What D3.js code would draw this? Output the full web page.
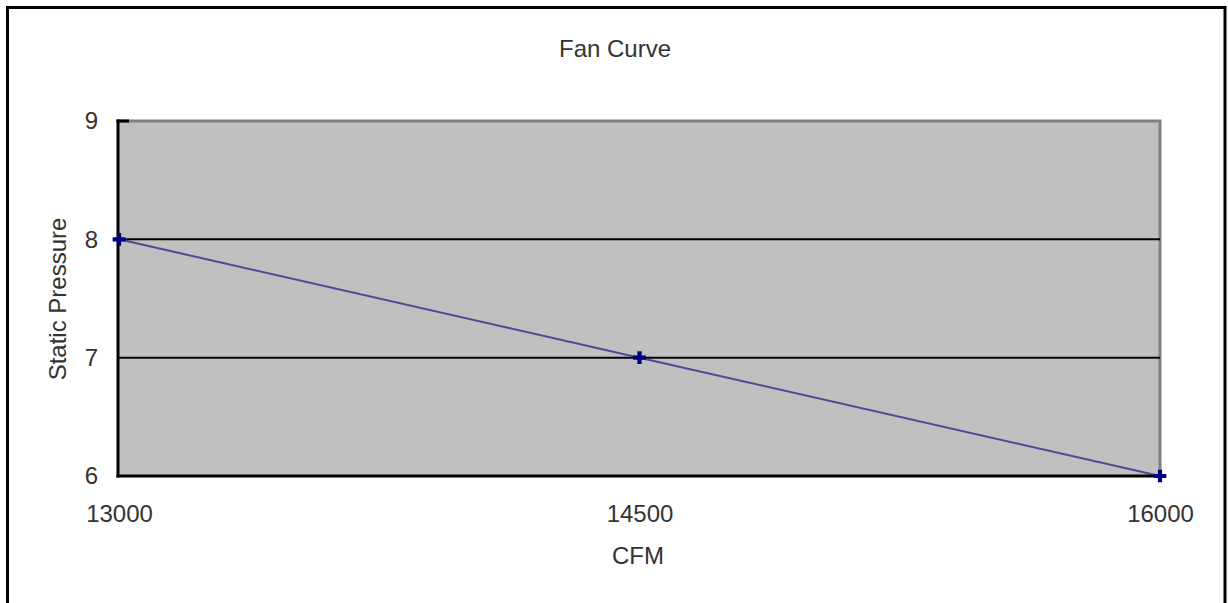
<!DOCTYPE html>
<html><head><meta charset="utf-8">
<script src="https://cdn.jsdelivr.net/npm/d3@7"></script>
<style>html,body{margin:0;padding:0;background:#fff;}svg{display:block;}</style>
</head><body>
<svg id="c" width="1228" height="603"></svg>
<script>
const cfm = [13000, 14500, 16000];
const pressure = [8, 7, 6];
const xTicks = [13000, 14500, 16000];
const yTicks = [6, 7, 8, 9];
const title = "Fan Curve";
const xTitle = "CFM";
const yTitle = "Static Pressure";

const svg = d3.select("#c");
const font = "Arial, 'Liberation Sans', sans-serif";
const fs = 24;
const txt = "#333";
const L = 119, R = 1160, T = 121, B = 476;
const x = d3.scaleLinear().domain([13000, 16000]).range([L, R]);
const y = d3.scaleLinear().domain([6, 9]).range([B, T]);

// outer border (bottom edge off-image)
svg.append("path").attr("d", "M7.5,603 V7.5 H1225 V603").attr("fill", "none").attr("stroke", "#000").attr("stroke-width", 3);

// plot area
svg.append("rect").attr("x", L).attr("y", T).attr("width", R - L).attr("height", B - T).attr("fill", "#c0c0c0");
svg.append("path").attr("d", `M${L},${T} H${R} V${B}`).attr("fill", "none").attr("stroke", "#808080").attr("stroke-width", 3);

// gridlines
svg.append("g").selectAll("line").data(yTicks.filter(v => v > 6 && v < 9)).join("line")
  .attr("x1", L).attr("x2", R).attr("y1", d => y(d)).attr("y2", d => y(d))
  .attr("stroke", "#000").attr("stroke-width", 2);

// axes
const xAxis = svg.append("g").attr("transform", `translate(0,${B})`)
  .call(d3.axisBottom(x).tickValues(xTicks).tickSize(0).tickPadding(29).tickFormat(d3.format("d")));
const yAxis = svg.append("g").attr("transform", `translate(${L},0)`)
  .call(d3.axisLeft(y).tickValues(yTicks).tickSize(0).tickPadding(21).tickFormat(d3.format("d")));
[xAxis, yAxis].forEach(a => {
  a.select(".domain").remove();
  a.selectAll("text").attr("font-family", font).attr("font-size", fs).attr("fill", txt);
});
svg.append("line").attr("x1", L - 1).attr("x2", L - 1).attr("y1", T - 1.5).attr("y2", B + 1.5).attr("stroke", "#000").attr("stroke-width", 3);
svg.append("line").attr("x1", L - 2.5).attr("x2", R).attr("y1", B).attr("y2", B).attr("stroke", "#000").attr("stroke-width", 3);
svg.append("line").attr("x1", L - 2.5).attr("x2", L + 10).attr("y1", T).attr("y2", T).attr("stroke", "#000").attr("stroke-width", 3);

// line
const pts = cfm.map((c, i) => [c, pressure[i]]);
svg.append("path").datum(pts)
  .attr("d", d3.line().x(d => x(d[0])).y(d => y(d[1])))
  .attr("fill", "none").attr("stroke", "#1a1a8a").attr("stroke-width", 2).attr("stroke-opacity", 0.7);
svg.append("g").selectAll("path").data(pts).join("path")
  .attr("transform", d => `translate(${x(d[0])},${y(d[1])})`)
  .attr("d", d3.symbol(d3.symbolCross, 90))
  .attr("fill", "#000080");

// titles
svg.append("text").attr("x", 615).attr("y", 57).attr("text-anchor", "middle")
  .attr("font-family", font).attr("font-size", fs).attr("fill", txt).text(title);
svg.append("text").attr("x", 638).attr("y", 564).attr("text-anchor", "middle")
  .attr("font-family", font).attr("font-size", fs).attr("fill", txt).text(xTitle);
svg.append("text").attr("transform", "translate(66,299) rotate(-90)").attr("text-anchor", "middle")
  .attr("font-family", font).attr("font-size", fs).attr("fill", txt).text(yTitle);
</script>
</body></html>
